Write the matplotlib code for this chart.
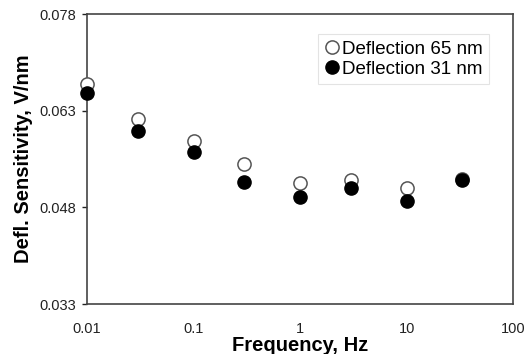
import matplotlib
matplotlib.use("Agg")
import matplotlib.pyplot as plt

# frequency sweep, Hz
freq = [0.01, 0.03, 0.1, 0.3, 1, 3, 10, 33]
# deflection sensitivity, V/nm
sens_65 = [0.0671, 0.0618, 0.0583, 0.0547, 0.0518, 0.0522, 0.0510, 0.0524]
sens_31 = [0.0658, 0.0599, 0.0566, 0.0520, 0.0496, 0.0510, 0.0490, 0.0522]

y_ticks = [0.033, 0.048, 0.063, 0.078]
x_ticks = [0.01, 0.1, 1, 10, 100]
x_labels = ["0.01", "0.1", "1", "10", "100"]

plt.rcParams['font.family'] = ['Liberation Sans', 'DejaVu Sans']

fig = plt.figure(figsize=(5.28, 3.54), dpi=100)
ax = fig.add_axes((0.165, 0.141, 0.807, 0.819))

ax.plot(freq, sens_65, 'o', ms=9.5, mfc='white', mec='#555555', mew=1.1,
        label='Deflection 65 nm', zorder=3, clip_on=False)
ax.plot(freq, sens_31, 'o', ms=9.5, mfc='black', mec='black', mew=1.0,
        label='Deflection 31 nm', zorder=4, clip_on=False)

ax.set_xscale('log')
ax.set_xlim(0.01, 100)
ax.set_ylim(0.033, 0.078)
ax.set_xticks(x_ticks)
ax.set_xticklabels(x_labels)
ax.minorticks_off()
ax.set_yticks(y_ticks)
ax.set_yticklabels(["%.3f" % v for v in y_ticks])

ax.tick_params(axis='x', length=0, pad=13, labelsize=10.5, colors='#222222')
ax.tick_params(axis='y', length=3.6, width=1.0, pad=4, labelsize=10.5,
               colors='#222222', direction='out')

for side in ax.spines.values():
    side.set_color('#444444')
    side.set_linewidth(1.2)

ax.set_xlabel('Frequency, Hz', fontsize=14.5, fontweight='bold', labelpad=0)
ax.set_ylabel('Defl. Sensitivity, V/nm', fontsize=14.5, fontweight='bold', labelpad=5)

leg = ax.legend(loc='upper right', bbox_to_anchor=(0.944, 0.931), fontsize=13.5,
                frameon=True, fancybox=False, handletextpad=0.15,
                handlelength=0.8, borderpad=0.35, labelspacing=0.15,
                borderaxespad=0)
leg.get_frame().set_edgecolor('#dddddd')
leg.get_frame().set_linewidth(0.8)

fig.savefig('out.png', dpi=100)
